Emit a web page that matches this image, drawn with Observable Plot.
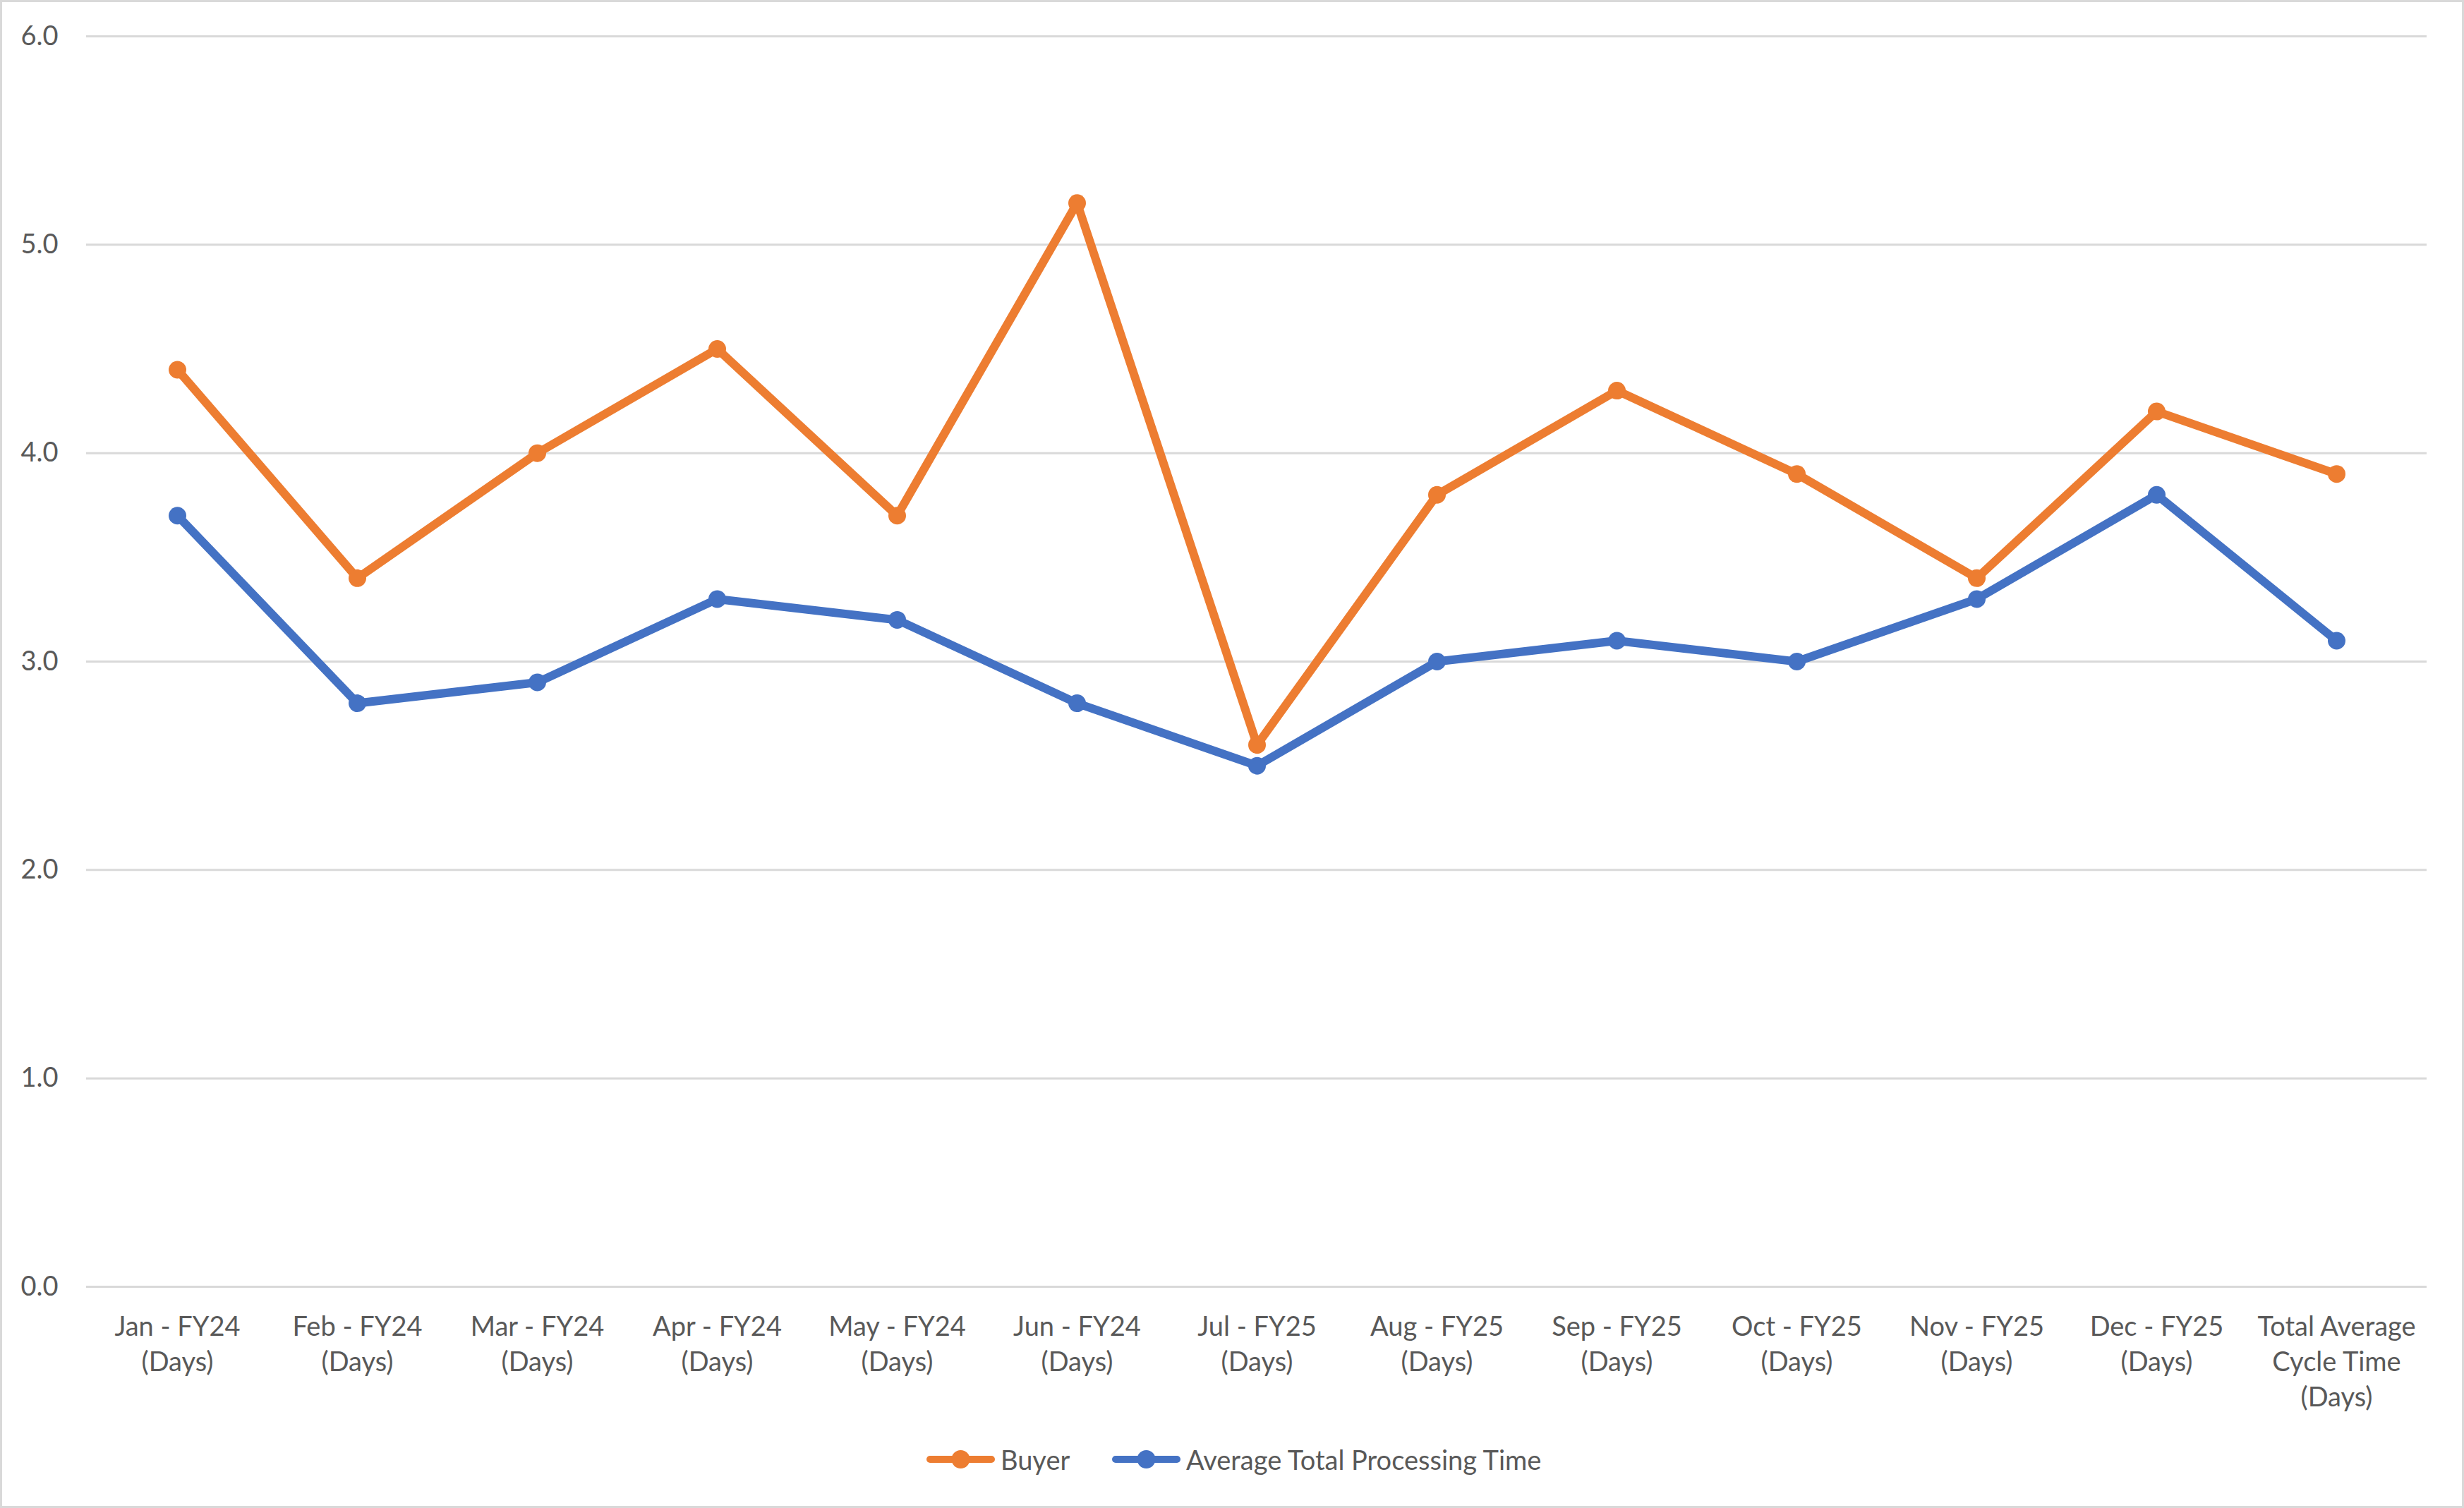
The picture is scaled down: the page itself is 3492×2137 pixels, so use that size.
<!DOCTYPE html>
<html>
<head>
<meta charset="utf-8">
<script src="https://cdn.jsdelivr.net/npm/d3@7"></script>
<script src="https://cdn.jsdelivr.net/npm/@observablehq/plot@0.6"></script>
<style>
  html, body { margin: 0; padding: 0; background: #fff; }
  #wrap { position: relative; width: 3492px; height: 2137px; overflow: hidden; font-family: Lato, "Open Sans", sans-serif; }
  #frame { position: absolute; left: 0; top: 0; width: 3492px; height: 2137px; box-sizing: border-box; border: 3px solid #d9d9d9; pointer-events: none; }
  #chart { position: absolute; left: 0; top: 0; }
  #legend { position: absolute; top: 2044px; left: 0; width: 3492px; height: 48px; }
  .item { position: absolute; top: 0; height: 48px; display: flex; align-items: center; font-size: 38px; color: #595959; white-space: nowrap; }
  .item svg { margin-right: 8px; }
</style>
</head>
<body>
<div id="wrap">
  <div id="chart"></div>
  <div id="legend"></div>
  <div id="frame"></div>
</div>
<script>
const categories = [
  "Jan - FY24 (Days)", "Feb - FY24 (Days)", "Mar - FY24 (Days)", "Apr - FY24 (Days)",
  "May - FY24 (Days)", "Jun - FY24 (Days)", "Jul - FY25 (Days)", "Aug - FY25 (Days)",
  "Sep - FY25 (Days)", "Oct - FY25 (Days)", "Nov - FY25 (Days)", "Dec - FY25 (Days)",
  "Total Average Cycle Time (Days)"
];
const tickLabels = [
  "Jan - FY24\n(Days)", "Feb - FY24\n(Days)", "Mar - FY24\n(Days)", "Apr - FY24\n(Days)",
  "May - FY24\n(Days)", "Jun - FY24\n(Days)", "Jul - FY25\n(Days)", "Aug - FY25\n(Days)",
  "Sep - FY25\n(Days)", "Oct - FY25\n(Days)", "Nov - FY25\n(Days)", "Dec - FY25\n(Days)",
  "Total Average\nCycle Time\n(Days)"
];
const buyer = [4.4, 3.4, 4.0, 4.5, 3.7, 5.2, 2.6, 3.8, 4.3, 3.9, 3.4, 4.2, 3.9];
const avgProcessing = [3.7, 2.8, 2.9, 3.3, 3.2, 2.8, 2.5, 3.0, 3.1, 3.0, 3.3, 3.8, 3.1];
const seriesNames = ["Buyer", "Average Total Processing Time"];
const seriesColors = ["#ED7D31", "#4472C4"];
const yTicks = [0, 1, 2, 3, 4, 5, 6];

const rows = [];
categories.forEach((c, i) => {
  rows.push({category: c, series: seriesNames[0], value: buyer[i]});
  rows.push({category: c, series: seriesNames[1], value: avgProcessing[i]});
});
const labelOf = new Map(categories.map((c, i) => [c, tickLabels[i]]));

const chart = Plot.plot({
  width: 3492,
  height: 2137,
  marginLeft: 122,
  marginRight: 53,
  marginTop: 51,
  marginBottom: 314,
  style: { fontFamily: "Lato, 'Open Sans', sans-serif", background: "transparent" },
  x: { type: "point", domain: categories, padding: 0.5, axis: null },
  y: { domain: [0, 6], axis: null },
  color: { domain: seriesNames, range: seriesColors },
  marks: [
    Plot.ruleY(yTicks, { stroke: "#d9d9d9", strokeWidth: 3 }),
    Plot.text(yTicks, {
      y: d => d, frameAnchor: "left", dx: -40, textAnchor: "end",
      text: d => d.toFixed(1), fontSize: 38, fill: "#595959"
    }),
    Plot.text(categories, {
      x: d => d, frameAnchor: "bottom", lineAnchor: "top", dy: 34,
      text: d => labelOf.get(d), fontSize: 38, lineHeight: 1.32, fill: "#595959"
    }),
    Plot.line(rows, {
      x: "category", y: "value", z: "series", stroke: "series",
      strokeWidth: 12, strokeLinejoin: "round", strokeLinecap: "round"
    }),
    Plot.dot(rows, { x: "category", y: "value", fill: "series", r: 12.5 })
  ]
});
document.getElementById("chart").appendChild(chart);

// Legend
const legend = document.getElementById("legend");
const positions = [1313, 1576];
seriesNames.forEach((name, i) => {
  const item = document.createElement("div");
  item.className = "item";
  item.style.left = positions[i] + "px";
  item.innerHTML = `<svg width="97" height="30" viewBox="0 0 97 30">
    <line x1="5" y1="15" x2="92" y2="15" stroke="${seriesColors[i]}" stroke-width="10" stroke-linecap="round"/>
    <circle cx="48.5" cy="15" r="13" fill="${seriesColors[i]}"/></svg><span>${name}</span>`;
  legend.appendChild(item);
});
</script>
</body>
</html>
